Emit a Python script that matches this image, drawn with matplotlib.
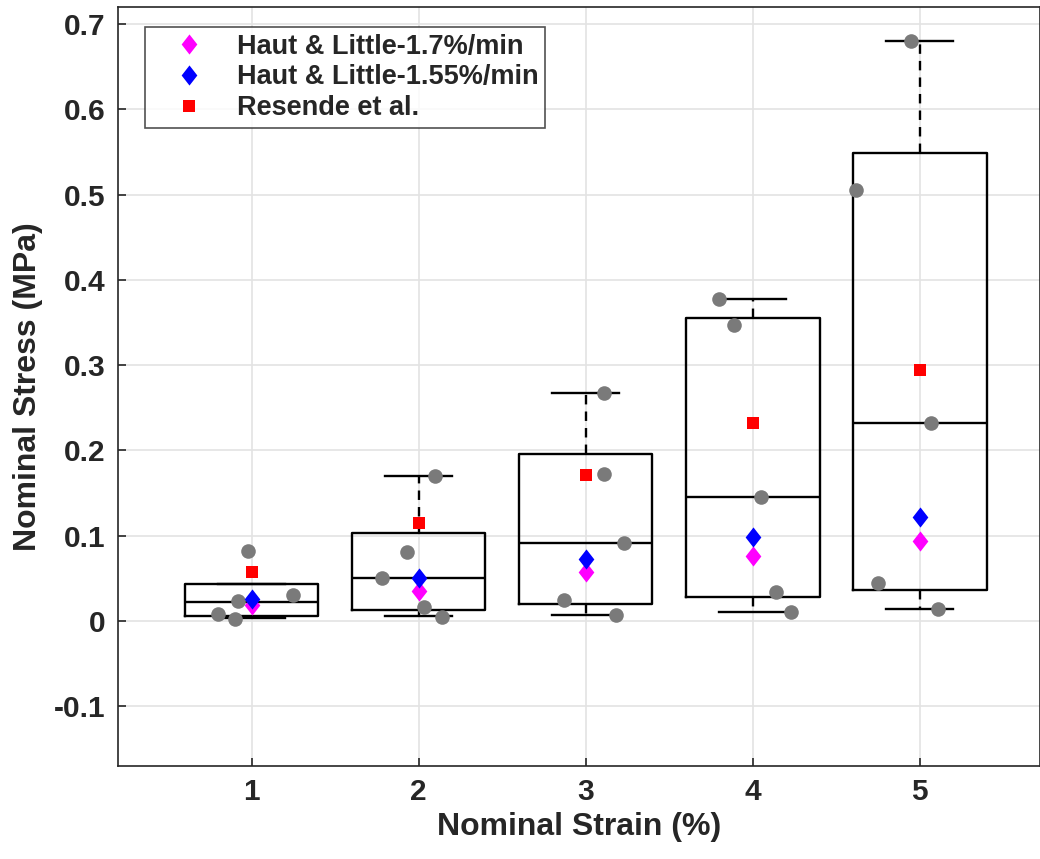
import matplotlib
matplotlib.use("Agg")
import matplotlib.pyplot as plt

plt.rcParams["font.family"] = ["Liberation Sans", "DejaVu Sans"]
plt.rcParams["font.weight"] = "bold"

# ── Box statistics per strain level ─────────────────────────────────────────
strain   = [1, 2, 3, 4, 5]
whis_lo  = [0.003, 0.006, 0.007, 0.011, 0.014]
q1       = [0.006, 0.013, 0.020, 0.028, 0.036]
median   = [0.022, 0.050, 0.091, 0.146, 0.232]
q3       = [0.043, 0.103, 0.196, 0.355, 0.549]
whis_hi  = [0.043, 0.170, 0.267, 0.378, 0.680]

# ── Individual specimens (grey dots) ─────────────────────────────────────────
pts_x = [0.98, 1.25, 0.92, 0.80, 0.90,
         2.10, 1.93, 1.78, 2.03, 2.14,
         3.11, 3.11, 3.23, 2.87, 3.18,
         3.80, 3.89, 4.05, 4.14, 4.23,
         4.95, 4.62, 5.07, 4.75, 5.11]
pts_y = [0.082, 0.030, 0.023, 0.008, 0.002,
         0.170, 0.081, 0.050, 0.016, 0.005,
         0.267, 0.172, 0.091, 0.025, 0.007,
         0.378, 0.347, 0.146, 0.034, 0.011,
         0.680, 0.506, 0.232, 0.044, 0.014]

# ── Literature comparison ────────────────────────────────────────────────────
haut_17  = [0.019, 0.035, 0.057, 0.076, 0.094]
haut_155 = [0.026, 0.050, 0.073, 0.098, 0.122]
resende  = [0.057, 0.115, 0.171, 0.232, 0.294]

# MATLAB-ish diamond (taller than wide)
DIAMOND = [(0, 1), (0.78, 0), (0, -1), (-0.78, 0), (0, 1)]

fig = plt.figure(figsize=(10.4, 8.59), dpi=100)
ax = fig.add_axes([118 / 1040, 1 - 766 / 859, 922 / 1040, 759 / 859])

ax.set_xlim(0.2, 5.72)
ax.set_ylim(-0.17, 0.72)
ax.set_xticks(strain)
ax.set_yticks([-0.1, 0, 0.1, 0.2, 0.3, 0.4, 0.5, 0.6, 0.7])
ax.set_yticklabels(["-0.1", "0", "0.1", "0.2", "0.3", "0.4", "0.5", "0.6", "0.7"])
ax.grid(True, color="#e3e3e3", linewidth=1.2)
ax.set_axisbelow(True)

stats = [dict(med=m, q1=a, q3=b, whislo=lo, whishi=hi, fliers=[])
         for m, a, b, lo, hi in zip(median, q1, q3, whis_lo, whis_hi)]
ax.bxp(stats, positions=strain, widths=0.8, capwidths=0.4,
       showfliers=False,
       boxprops=dict(color="black", linewidth=1.7),
       medianprops=dict(color="black", linewidth=1.7),
       whiskerprops=dict(color="black", linewidth=1.7, linestyle=(0, (4, 3))),
       capprops=dict(color="black", linewidth=1.7),
       manage_ticks=False, zorder=2)

ax.plot(pts_x, pts_y, "o", color="#7a7a7a", markersize=10.5,
        markeredgewidth=0, zorder=3)

ax.plot(strain, haut_17, linestyle="none", marker=DIAMOND, markersize=14.5,
        color="#ff00ff", markeredgewidth=0, label="Haut & Little-1.7%/min", zorder=4)
ax.plot(strain, haut_155, linestyle="none", marker=DIAMOND, markersize=14.5,
        color="#0000ff", markeredgewidth=0, label="Haut & Little-1.55%/min", zorder=4)
ax.plot(strain, resende, linestyle="none", marker="s", markersize=8.5,
        color="#ff0000", markeredgewidth=0, label="Resende et al.", zorder=4)

for side in ["left", "bottom", "top", "right"]:
    ax.spines[side].set_color("#262626")
    ax.spines[side].set_linewidth(1.2)

ax.tick_params(direction="in", length=6, width=1.2, colors="#262626",
               labelsize=21.5, pad=9)
for lbl in ax.get_xticklabels() + ax.get_yticklabels():
    lbl.set_fontweight("bold")

ax.set_xlabel("Nominal Strain (%)", fontsize=23, fontweight="bold",
              color="#262626", labelpad=4)
ax.set_ylabel("Nominal Stress (MPa)", fontsize=23, fontweight="bold",
              color="#262626", labelpad=8)

leg = ax.legend(loc="upper left", bbox_to_anchor=(0.029, 0.974), fontsize=19.5,
                frameon=True, fancybox=False, edgecolor="#262626",
                handletextpad=0.35, borderpad=0.25, labelspacing=0.18,
                handlelength=2.8, borderaxespad=0)
leg.get_frame().set_linewidth(1.2)
for t in leg.get_texts():
    t.set_fontweight("bold")
    t.set_color("#262626")

fig.savefig("out.png", dpi=100)
